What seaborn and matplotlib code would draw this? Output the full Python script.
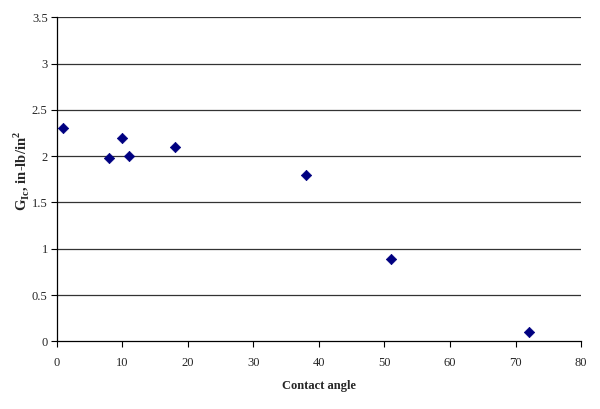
import matplotlib
matplotlib.use("Agg")
import matplotlib.pyplot as plt
import seaborn as sns
import pandas as pd

# values
contact_angle = [1, 8, 10, 11, 18, 38, 51, 72]
g1c = [2.3, 1.98, 2.2, 2.0, 2.1, 1.8, 0.89, 0.1]
xticks = [0, 10, 20, 30, 40, 50, 60, 70, 80]
yticks = [0, 0.5, 1, 1.5, 2, 2.5, 3, 3.5]

sns.set_style("white")
plt.rcParams['font.family'] = ['Liberation Serif', 'DejaVu Serif']
plt.rcParams['mathtext.fontset'] = 'custom'
plt.rcParams['mathtext.rm'] = 'Liberation Serif'
plt.rcParams['mathtext.bf'] = 'Liberation Serif:bold'

df = pd.DataFrame({"angle": contact_angle, "g": g1c})

fig = plt.figure(figsize=(6, 4.09), dpi=100)
ax = fig.add_axes([0.0945, 0.1655, 0.874, 0.792])

for y in yticks[1:]:
    ax.axhline(y, color="#333333", lw=0.9, zorder=0)

sns.scatterplot(data=df, x="angle", y="g", marker="D", color="#000080",
                s=28, edgecolor="#000080", linewidth=0.5, ax=ax, zorder=3)

ax.set_xlim(0, 80)
ax.set_ylim(0, 3.5)
ax.set_xticks(xticks)
ax.set_yticks(yticks)
ax.set_xticklabels([str(t) for t in xticks])
ax.set_yticklabels([f"{t:g}" for t in yticks])
ax.tick_params(axis="both", direction="out", length=4, width=0.8,
               labelsize=9, bottom=True, left=True, color="black")
ax.tick_params(axis="x", pad=7.5)
ax.tick_params(axis="y", pad=2.5)

for side in ["top", "right"]:
    ax.spines[side].set_visible(False)
for side in ["left", "bottom"]:
    ax.spines[side].set_color("black")
    ax.spines[side].set_linewidth(0.9)

ax.set_xlabel("Contact angle", fontsize=9, fontweight="bold")
ax.set_ylabel(r"G$_{\mathbf{Ic}}$, in-lb/in$^{\mathbf{2}}$", fontsize=10.5,
              fontweight="bold")
ax.xaxis.set_label_coords(0.5, -0.12)
ax.yaxis.set_label_coords(-0.049, 0.526)

fig.savefig("out.png", dpi=100)
